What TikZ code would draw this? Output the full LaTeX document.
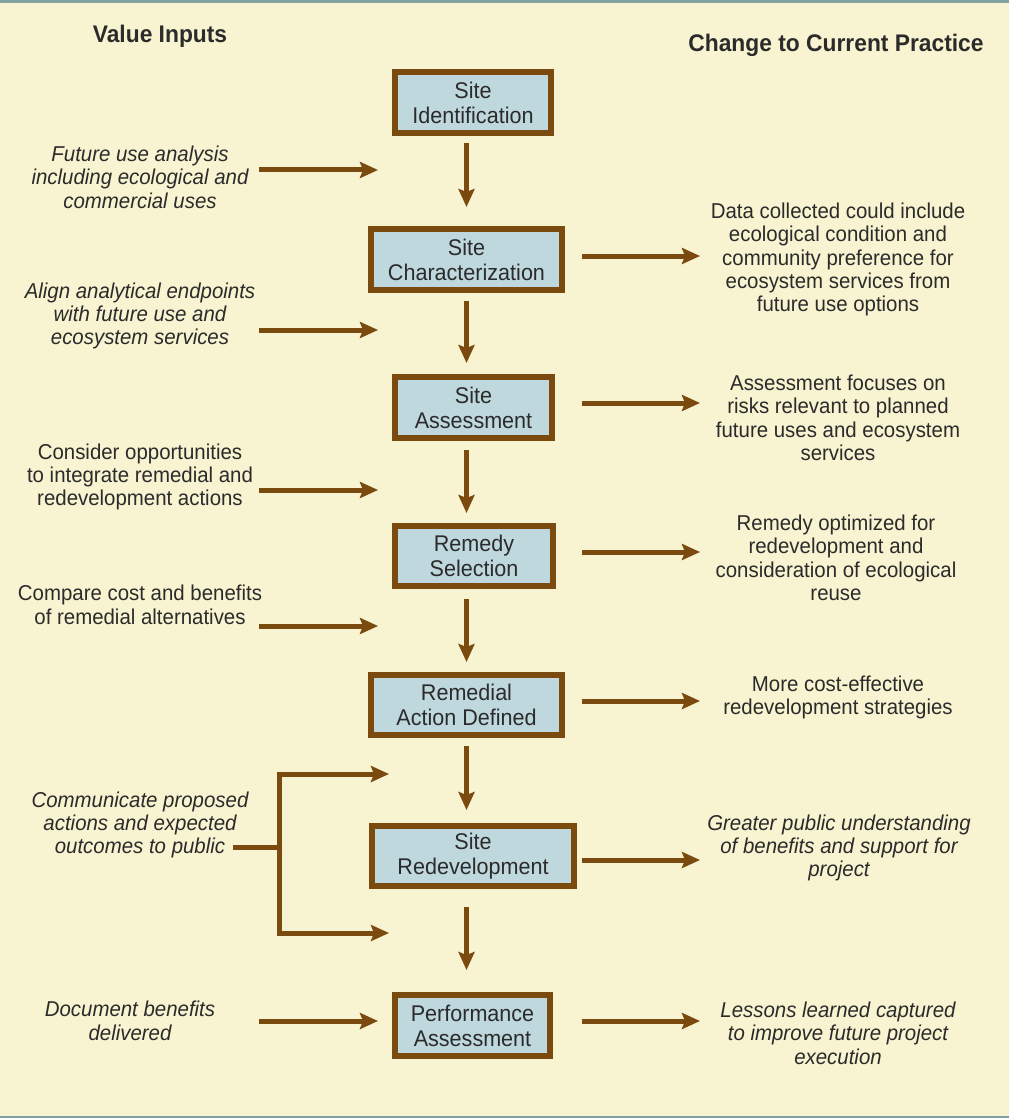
\documentclass[tikz,border=0pt]{standalone}
\usepackage{fontspec}
\setmainfont{Liberation Sans}[FakeStretch=0.95]
\usetikzlibrary{arrows.meta,calc}
\definecolor{bg}{HTML}{F8F3D0}
\definecolor{edgeline}{HTML}{7FA3A0}
\definecolor{brn}{HTML}{7B4A0F}
\definecolor{boxfill}{HTML}{BED8DE}
\definecolor{txt}{HTML}{2B2B2B}
\tikzset{
  stagebox/.style={draw=brn, line width=6pt, fill=boxfill, inner sep=0pt, align=center,
    text=txt, font=\fontsize{22.7}{25}\selectfont},
  note/.style={align=center, text=txt, inner sep=0pt, font=\fontsize{21.5}{23.4}\selectfont},
  inote/.style={note, font=\fontsize{21.5}{23.4}\selectfont\itshape},
  heading/.style={text=txt, inner sep=0pt, font=\fontsize{24}{26}\selectfont\bfseries},
  conn/.style={draw=brn, line width=5pt},
  arr/.style={conn, -{Stealth[length=18pt,width=16pt,inset=3pt]}}
}
\begin{document}
\begin{tikzpicture}[x=1pt,y=-1pt]
\useasboundingbox (0,0) rectangle (1009,1118);
\fill[bg] (0,0) rectangle (1009,1118);
\fill[edgeline] (0,0) rectangle (1009,3);
\fill[edgeline] (0,1116) rectangle (1009,1118);

% headings
\node[heading] (h1) at (160,36) {Value Inputs};
\node[heading] (h2) at (836,45) {Change to Current Practice};

% column coordinate
\coordinate (col) at (466.5,0);
\coordinate (rs) at (582,0);

% stage boxes
\node[stagebox, minimum width=156pt, minimum height=61pt] (b1) at (473,102.5) {Site\\Identification};
\node[stagebox, minimum width=191pt, minimum height=61pt] (b2) at (466.5,259.5) {Site\\Characterization};
\node[stagebox, minimum width=157pt, minimum height=61pt] (b3) at (473.5,407.5) {Site\\Assessment};
\node[stagebox, minimum width=158pt, minimum height=60pt] (b4) at (474,556) {Remedy\\Selection};
\node[stagebox, minimum width=191pt, minimum height=60pt] (b5) at (466.5,705) {Remedial\\Action Defined};
\node[stagebox, minimum width=202pt, minimum height=60pt] (b6) at (473,856) {Site\\Redevelopment};
\node[stagebox, minimum width=155pt, minimum height=61pt] (b7) at (472.5,1025.5) {Performance\\Assessment};

% vertical arrows
\draw[arr] ([yshift=-7pt]b1.south -| col) -- ([yshift=19pt]b2.north -| col);
\draw[arr] ([yshift=-8pt]b2.south -| col) -- ([yshift=11pt]b3.north -| col);
\draw[arr] ([yshift=-9pt]b3.south -| col) -- ([yshift=10pt]b4.north -| col);
\draw[arr] ([yshift=-10pt]b4.south -| col) -- ([yshift=10pt]b5.north -| col);
\draw[arr] ([yshift=-8pt]b5.south -| col) -- ([yshift=13pt]b6.north -| col);
\draw[arr] ([yshift=-18pt]b6.south -| col) -- ([yshift=22pt]b7.north -| col);

% left notes
\node[inote] (l1) at (140,177) {Future use analysis\\including ecological and\\commercial uses};
\node[inote] (l2) at (140,316) {Align analytical endpoints\\with future use and\\ecosystem services};
\node[note] (l3) at (140,477) {Consider opportunities\\to integrate remedial and\\redevelopment actions};
\node[note] (l4) at (140,605) {Compare cost and benefits\\of remedial alternatives};
\node[inote] (l5) at (140,825) {Communicate proposed\\actions and expected\\outcomes to public};
\node[inote] (l6) at (130,1021) {Document benefits\\delivered};

% left arrows
\coordinate (a1s) at (259,170); \coordinate (a1e) at (378,170);
\coordinate (a2s) at (259,330); \coordinate (a2e) at (378,330);
\coordinate (a3s) at (259,490); \coordinate (a3e) at (378,490);
\coordinate (a4s) at (259,626); \coordinate (a4e) at (378,626);
\coordinate (a6s) at (259,1021); \coordinate (a6e) at (378,1021);
\draw[arr] (a1s) -- (a1e);
\draw[arr] (a2s) -- (a2e);
\draw[arr] (a3s) -- (a3e);
\draw[arr] (a4s) -- (a4e);
\draw[arr] (a6s) -- (a6e);

% bracket
\coordinate (bs) at (233,847);
\coordinate (bj) at (279,847);
\coordinate (bt) at (389,774);
\coordinate (bb) at (389,933);
\draw[conn] (bs) -- (bj);
\draw[arr] (bj) |- (bt);
\draw[arr] (bj) |- (bb);

% right notes
\node[note] (r2) at (838,259.5) {Data collected could include\\ecological condition and\\community preference for\\ecosystem services from\\future use options};
\node[note] (r3) at (838,418) {Assessment focuses on\\risks relevant to planned\\future uses and ecosystem\\services};
\node[note] (r4) at (836,558) {Remedy optimized for\\redevelopment and\\consideration of ecological\\reuse};
\node[note] (r5) at (838,697.5) {More cost-effective\\redevelopment strategies};
\node[inote] (r6) at (839,848) {Greater public understanding\\of benefits and support for\\project};
\node[inote] (r7) at (838,1033) {Lessons learned captured\\to improve future project\\execution};

% right arrows
\coordinate (re) at (700,0);
\draw[arr] ([yshift=3.5pt]b2.center -| rs) -- ([yshift=3.5pt]b2.center -| re);
\draw[arr] ([yshift=4.5pt]b3.center -| rs) -- ([yshift=4.5pt]b3.center -| re);
\draw[arr] ([yshift=4pt]b4.center -| rs) -- ([yshift=4pt]b4.center -| re);
\draw[arr] ([yshift=4pt]b5.center -| rs) -- ([yshift=4pt]b5.center -| re);
\draw[arr] ([yshift=-4pt]b6.center -| rs) -- ([yshift=-4pt]b6.center -| re);
\draw[arr] ([yshift=4.5pt]b7.center -| rs) -- ([yshift=4.5pt]b7.center -| re);
\end{tikzpicture}
\end{document}
